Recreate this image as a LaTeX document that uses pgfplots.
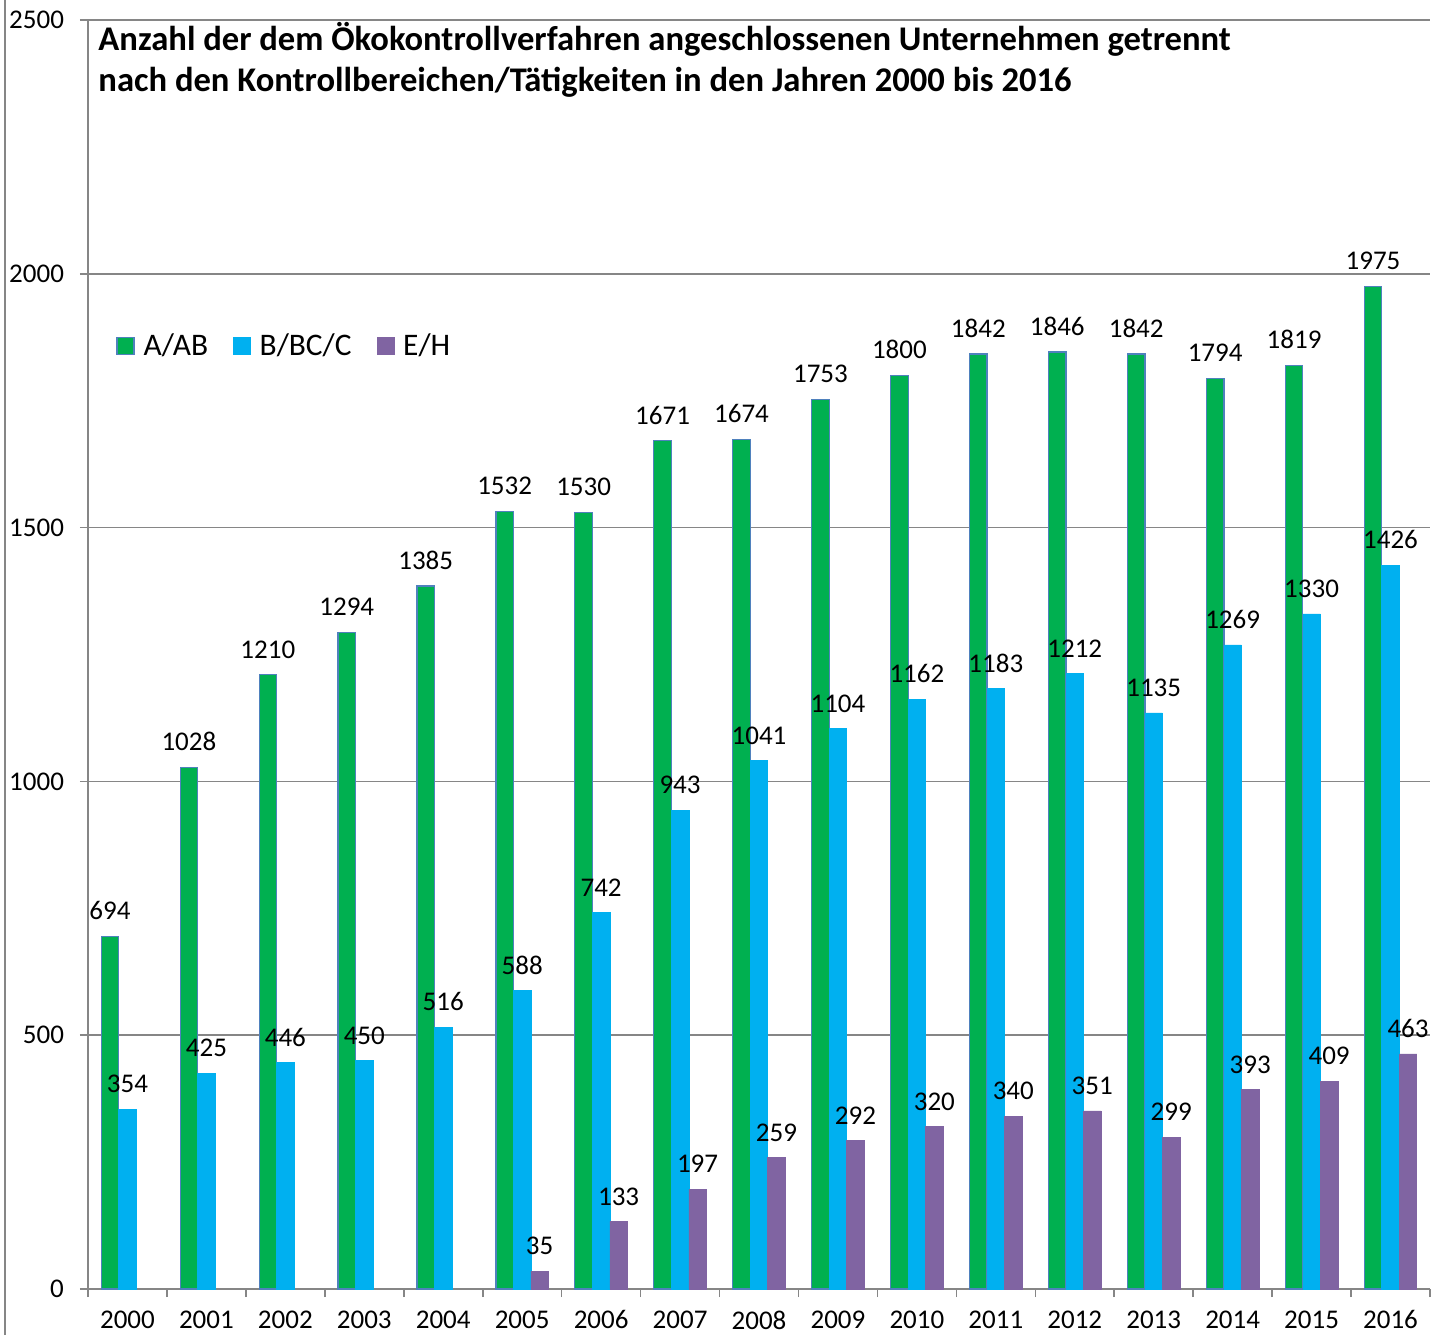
\documentclass[border=0pt]{standalone}
\usepackage{pgfplots}
\pgfplotsset{compat=1.18}
\usepackage{fontspec}
\setmainfont{Carlito}

\definecolor{cgreen}{HTML}{00B050}
\definecolor{ccyan}{HTML}{00B0F0}
\definecolor{cpurple}{HTML}{8064A2}
\definecolor{cborder}{HTML}{4F81BD}
\definecolor{cgrid}{HTML}{868686}

\pgfplotsset{sqlegend/.style={legend image code/.code={\draw[##1] (0pt,-4.25pt) rectangle (8.5pt,4.25pt);}}}

\begin{document}
\begin{tikzpicture}
\begin{axis}[
  scale only axis, width=671pt, height=634.5pt,
  xmin=-0.5, xmax=16.5, ymin=0, ymax=2500,
  ytick={0,500,1000,1500,2000,2500},
  xtick={0,...,16},
  xticklabels={2000,2001,2002,2003,2004,2005,2006,2007,2008,2009,2010,2011,2012,2013,2014,2015,2016},
  minor xtick={-0.5,0.5,...,16.5},
  ymajorgrids, grid style={cgrid, line width=0.8pt},
  axis x line*=bottom, axis y line*=left,
  axis line style={cgrid, line width=0.8pt},
  tick style={cgrid, line width=0.8pt},
  major x tick style={draw=none},
  major tick length=4pt, minor tick length=4pt,
  tick align=outside,
  /pgf/number format/.cd, 1000 sep={}, assume math mode=true, /pgfplots/.cd,
  ticklabel style={font=\fontsize{13.5}{16}\selectfont, text=black},
  yticklabel style={xshift=-4.5pt},
  xticklabel style={yshift=-3.3pt},
  ybar=0pt, bar width=8.75pt,
  every axis plot post/.append style={sqlegend},
  legend style={at={(0.0209,0.743)}, anchor=west, draw=none, fill=none, inner sep=0pt,
    font=\fontsize{15.7}{18}\selectfont, legend columns=-1,
    nodes={inner sep=2pt},
    /tikz/every odd column/.append style={column sep=2.5pt},
    /tikz/every even column/.append style={column sep=10.5pt}},
  every node near coord/.append style={font=\fontsize{13.5}{16}\selectfont, text=black, anchor=south, inner sep=0pt, yshift=8pt},
  nodes near coords,
]
\addplot[fill=cgreen, draw=cborder, line width=0.6pt] coordinates {
(0,694) (1,1028) (2,1210) (3,1294) (4,1385) (5,1532) (6,1530) (7,1671) (8,1674)
(9,1753) (10,1800) (11,1842) (12,1846) (13,1842) (14,1794) (15,1819) (16,1975)};
\addplot[fill=ccyan, draw=ccyan, line width=0.3pt] coordinates {
(0,354) (1,425) (2,446) (3,450) (4,516) (5,588) (6,742) (7,943) (8,1041)
(9,1104) (10,1162) (11,1183) (12,1212) (13,1135) (14,1269) (15,1330) (16,1426)};
\addplot[fill=cpurple, draw=cpurple, line width=0.3pt] coordinates {
(5,35) (6,133) (7,197) (8,259) (9,292) (10,320) (11,340) (12,351) (13,299) (14,393) (15,409) (16,463)};
\legend{A/AB, B/BC/C, E/H}
\coordinate (O) at (rel axis cs:0,0);
\node[anchor=north west, align=left, inner sep=0pt, font=\bfseries\fontsize{17.3}{20.5}\selectfont]
  at ([yshift=-1pt]rel axis cs:0.0075,1) {Anzahl der dem Ökokontrollverfahren angeschlossenen Unternehmen getrennt\\nach den Kontrollbereichen/Tätigkeiten in den Jahren 2000 bis 2016};
\end{axis}
\draw[cgrid, line width=1pt] (O) ++(-41.5pt,-23pt) -- ++(0,667.5pt);
\pgfresetboundingbox
\path[use as bounding box] (O) ++(-44pt,-23pt) rectangle ++(723pt,667.5pt);
\end{tikzpicture}
\end{document}
